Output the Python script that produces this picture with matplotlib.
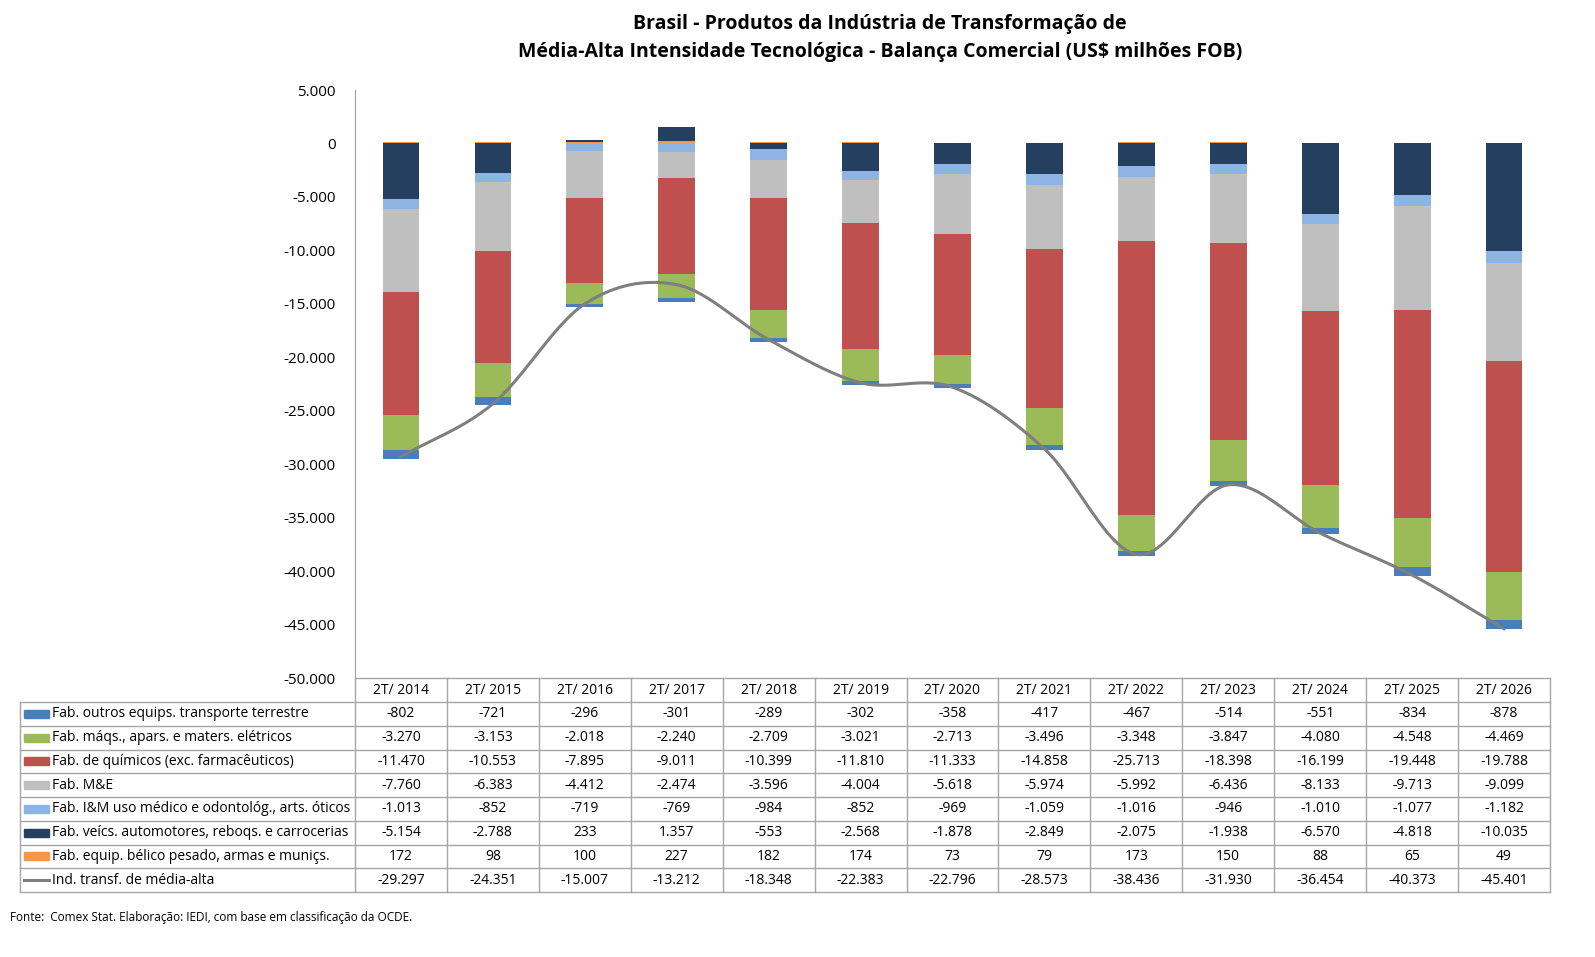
import matplotlib
matplotlib.use("Agg")
import matplotlib.pyplot as plt
import numpy as np

plt.rcParams["font.family"] = ["Open Sans", "DejaVu Sans"]

years = ["2T/ 2014", "2T/ 2015", "2T/ 2016", "2T/ 2017", "2T/ 2018", "2T/ 2019", "2T/ 2020",
         "2T/ 2021", "2T/ 2022", "2T/ 2023", "2T/ 2024", "2T/ 2025", "2T/ 2026"]
outros = [-802, -721, -296, -301, -289, -302, -358, -417, -467, -514, -551, -834, -878]
maqs = [-3270, -3153, -2018, -2240, -2709, -3021, -2713, -3496, -3348, -3847, -4080, -4548, -4469]
quim = [-11470, -10553, -7895, -9011, -10399, -11810, -11333, -14858, -25713, -18398, -16199, -19448, -19788]
me = [-7760, -6383, -4412, -2474, -3596, -4004, -5618, -5974, -5992, -6436, -8133, -9713, -9099]
imed = [-1013, -852, -719, -769, -984, -852, -969, -1059, -1016, -946, -1010, -1077, -1182]
veics = [-5154, -2788, 233, 1357, -553, -2568, -1878, -2849, -2075, -1938, -6570, -4818, -10035]
belico = [172, 98, 100, 227, 182, 174, 73, 79, 173, 150, 88, 65, 49]
total = [-29297, -24351, -15007, -13212, -18348, -22383, -22796, -28573, -38436, -31930, -36454, -40373, -45401]

names = ["Fab. outros equips. transporte terrestre", "Fab. máqs., apars. e maters. elétricos",
         "Fab. de químicos (exc. farmacêuticos)", "Fab. M&E",
         "Fab. I&M uso médico e odontológ., arts. óticos", "Fab. veícs. automotores, reboqs. e carrocerias",
         "Fab. equip. bélico pesado, armas e muniçs.", "Ind. transf. de média-alta"]
series = [outros, maqs, quim, me, imed, veics, belico]
colors = ["#4a7ebb", "#9bbb59", "#c0504d", "#bfbfbf", "#8eb4e3", "#243f60", "#f79646"]

W, H = 1595, 957
fig = plt.figure(figsize=(W / 100, H / 100), dpi=100)
L, R, T, B = 355, 1550, 90, 678
ax = fig.add_axes([L / W, 1 - B / H, (R - L) / W, (B - T) / H])
n = len(years)
x = np.arange(n)

# stacking: positives bélico then veícs; negatives veícs, I&M, M&E, químicos, máqs, outros
pos = np.zeros(n)
neg = np.zeros(n)
for idx in [6, 5, 4, 3, 2, 1, 0]:
    v = np.array(series[idx], dtype=float)
    bottom = np.where(v >= 0, pos, neg)
    ax.bar(x, v, bottom=bottom, width=0.4, color=colors[idx], zorder=2)
    pos = np.where(v >= 0, pos + v, pos)
    neg = np.where(v < 0, neg + v, neg)

# smoothed line (Catmull-Rom through data points)
tv = np.array(total, dtype=float)
P = np.concatenate([[2 * tv[0] - tv[1]], tv, [2 * tv[-1] - tv[-2]]])
xs, ys = [], []
for i in range(n - 1):
    p0, p1, p2, p3 = P[i], P[i + 1], P[i + 2], P[i + 3]
    t = np.linspace(0, 1, 30)
    y = 0.5 * (2 * p1 + (-p0 + p2) * t + (2 * p0 - 5 * p1 + 4 * p2 - p3) * t ** 2
               + (-p0 + 3 * p1 - 3 * p2 + p3) * t ** 3)
    xs.extend(i + t)
    ys.extend(y)
ax.plot(xs, ys, color="#7f7f7f", lw=2.2, zorder=3)

ax.set_xlim(-0.5, n - 0.5)
ax.set_ylim(-50000, 5000)
ax.set_yticks(np.arange(-50000, 5001, 5000))
ax.set_yticklabels([f"{v:,}".replace(",", ".") for v in range(-50000, 5001, 5000)], fontsize=11)
ax.set_xticks([])
ax.tick_params(axis="y", length=0, pad=14)
for s in ["top", "right", "bottom"]:
    ax.spines[s].set_visible(False)
ax.spines["left"].set_color("#a0a0a0")

fig.text(880 / W, 1 - 38 / H, "Brasil - Produtos da Indústria de Transformação de\n"
         "Média-Alta Intensidade Tecnológica - Balança Comercial (US$ milhões FOB)",
         ha="center", va="center", fontsize=14, fontweight="bold", linespacing=1.5)

# table in pixel coords
def fx(p): return p / W
def fy(p): return 1 - p / H
lc = "#a6a6a6"
cw = (R - L) / n
rows_top = 702
rh = (892 - rows_top) / 8
fig.add_artist(plt.Line2D([fx(L), fx(R)], [fy(B), fy(B)], color=lc, lw=1))
for j in range(n + 1):
    xx = L + j * cw
    fig.add_artist(plt.Line2D([fx(xx), fx(xx)], [fy(B), fy(892)], color=lc, lw=1))
fig.add_artist(plt.Line2D([fx(20), fx(20)], [fy(rows_top), fy(892)], color=lc, lw=1))
for r in range(9):
    yy = rows_top + r * rh
    fig.add_artist(plt.Line2D([fx(20), fx(R)], [fy(yy), fy(yy)], color=lc, lw=1))
for j in range(n):
    fig.text(fx(L + (j + 0.5) * cw), fy((B + rows_top) / 2), years[j], ha="center", va="center", fontsize=10)
vals = series + [total]
lcolors = colors + ["#7f7f7f"]
for r in range(8):
    yc = rows_top + (r + 0.5) * rh
    if r < 7:
        fig.add_artist(plt.Rectangle((fx(24), fy(yc + 4)), 25 / W, 8 / H, color=lcolors[r]))
    else:
        fig.add_artist(plt.Line2D([fx(24), fx(49)], [fy(yc), fy(yc)], color=lcolors[r], lw=2.2))
    fig.text(fx(52), fy(yc), names[r], ha="left", va="center", fontsize=10)
    for j in range(n):
        fig.text(fx(L + (j + 0.5) * cw), fy(yc), f"{vals[r][j]:,}".replace(",", "."),
                 ha="center", va="center", fontsize=10)

fig.text(fx(10), fy(917), "Fonte:  Comex Stat. Elaboração: IEDI, com base em classificação da OCDE.",
         ha="left", va="center", fontsize=8.5)

fig.savefig("out.png", dpi=100, facecolor="white")
